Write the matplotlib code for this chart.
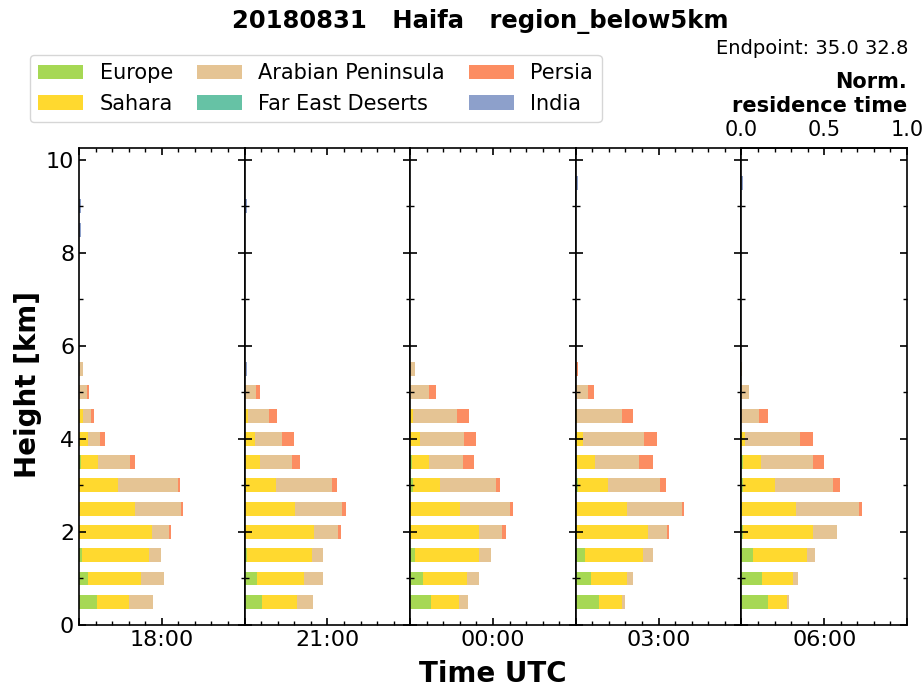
import numpy as np
import matplotlib
matplotlib.use("Agg")
import matplotlib.pyplot as plt
from matplotlib.ticker import MultipleLocator

# heights of the residence-time bins (km)
heights = [0.5, 1.0, 1.5, 2.0, 2.5, 3.0, 3.5, 4.0, 4.5, 5.0, 5.5, 8.5, 9.0, 9.5]
times = ["18:00", "21:00", "00:00", "03:00", "06:00"]

# normalised residence time per source region, one row per time step
europe = [
    [0.111, 0.053, 0.016, 0, 0, 0, 0.012, 0, 0, 0, 0, 0, 0, 0],
    [0.107, 0.075, 0.016, 0, 0, 0.008, 0, 0, 0, 0, 0, 0, 0, 0],
    [0.125, 0.077, 0.030, 0.004, 0, 0.018, 0.012, 0, 0, 0, 0, 0, 0, 0],
    [0.139, 0.093, 0.055, 0.006, 0.004, 0.016, 0.006, 0, 0, 0, 0, 0, 0, 0],
    [0.158, 0.123, 0.072, 0.008, 0.004, 0.010, 0.008, 0, 0, 0, 0, 0, 0, 0],
]
sahara = [
    [0.188, 0.323, 0.406, 0.442, 0.339, 0.236, 0.103, 0.055, 0.022, 0, 0, 0, 0, 0],
    [0.212, 0.281, 0.392, 0.422, 0.307, 0.182, 0.095, 0.063, 0.020, 0, 0, 0, 0, 0],
    [0.170, 0.267, 0.386, 0.412, 0.303, 0.164, 0.103, 0.061, 0.018, 0, 0, 0, 0, 0],
    [0.141, 0.218, 0.352, 0.428, 0.307, 0.176, 0.111, 0.042, 0.006, 0, 0, 0, 0, 0],
    [0.117, 0.191, 0.324, 0.423, 0.324, 0.195, 0.113, 0.020, 0, 0, 0, 0, 0, 0],
]
arabian = [
    [0.149, 0.137, 0.073, 0.103, 0.275, 0.360, 0.194, 0.073, 0.053, 0.050, 0.024, 0, 0, 0],
    [0.093, 0.117, 0.065, 0.139, 0.283, 0.337, 0.194, 0.162, 0.129, 0.071, 0.008, 0, 0, 0],
    [0.053, 0.071, 0.071, 0.139, 0.299, 0.337, 0.204, 0.261, 0.267, 0.113, 0.028, 0, 0, 0],
    [0.018, 0.034, 0.059, 0.117, 0.331, 0.317, 0.265, 0.370, 0.271, 0.071, 0.008, 0, 0, 0],
    [0.012, 0.030, 0.051, 0.145, 0.384, 0.349, 0.310, 0.331, 0.109, 0.047, 0.005, 0, 0, 0],
]
fareast = [
    [0] * 14,
    [0] * 14,
    [0] * 14,
    [0] * 14,
    [0] * 14,
]
persia = [
    [0, 0, 0, 0.012, 0.016, 0.016, 0.030, 0.030, 0.016, 0.008, 0, 0, 0, 0],
    [0, 0, 0, 0.020, 0.024, 0.028, 0.048, 0.071, 0.048, 0.024, 0, 0, 0, 0],
    [0, 0, 0, 0.024, 0.016, 0.026, 0.069, 0.073, 0.071, 0.040, 0, 0, 0, 0],
    [0, 0, 0, 0.010, 0.012, 0.036, 0.085, 0.081, 0.069, 0.036, 0.006, 0, 0, 0],
    [0, 0, 0, 0, 0.014, 0.043, 0.067, 0.082, 0.049, 0, 0, 0, 0, 0],
]
india = [
    [0, 0, 0, 0, 0, 0, 0, 0, 0, 0, 0, 0.012, 0.012, 0],
    [0, 0, 0, 0, 0, 0, 0, 0, 0, 0, 0.006, 0, 0.012, 0],
    [0] * 14,
    [0, 0, 0, 0, 0, 0, 0, 0, 0, 0, 0, 0, 0, 0.012],
    [0, 0, 0, 0, 0, 0, 0, 0, 0, 0, 0, 0, 0, 0.010],
]

regions = ["Europe", "Sahara", "Arabian Peninsula", "Far East Deserts", "Persia", "India"]
region_data = [europe, sahara, arabian, fareast, persia, india]
colors = ["#a6d854", "#ffd92f", "#e5c494", "#66c2a5", "#fc8d62", "#8da0cb"]

plt.rcParams["axes.linewidth"] = 1.2

fig = plt.figure(figsize=(9.24, 6.96), dpi=100)
axes = fig.subplots(1, 5, sharey=True)
fig.subplots_adjust(left=0.0855, right=0.9816, bottom=0.102, top=0.787, wspace=0)

handles = []
for i, ax in enumerate(axes):
    left = np.zeros(len(heights))
    for name, data, col in zip(regions, region_data, colors):
        vals = np.array(data[i], dtype=float)
        b = ax.barh(heights, vals, height=0.3, left=left, color=col,
                    linewidth=0, label=name)
        left += vals
        if i == 0:
            handles.append(b)
    ax.set_xlim(0, 1)
    ax.set_ylim(0, 10.25)
    ax.xaxis.set_major_locator(MultipleLocator(0.5))
    ax.xaxis.set_minor_locator(MultipleLocator(0.1))
    ax.yaxis.set_major_locator(MultipleLocator(2))
    ax.yaxis.set_minor_locator(MultipleLocator(1))
    ax.tick_params(which="both", direction="in", top=True, right=True,
                   labeltop=False, labelsize=16)
    ax.tick_params(which="major", length=5, width=1.2)
    ax.tick_params(which="minor", length=3, width=1.0)
    ax.set_xticks([0, 0.5, 1])
    ax.set_xticklabels(["", times[i], ""])
    if i > 0:
        ax.tick_params(labelleft=False)

# top scale on the last panel
last = axes[-1]
sec = last.secondary_xaxis("top")
sec.set_xticks([0, 0.5, 1])
sec.set_xticklabels(["0.0", "0.5", "1.0"])
sec.tick_params(direction="in", length=0, labelsize=15, pad=6)
sec.set_xlabel("Norm.\nresidence time", fontweight="bold", fontsize=15,
               loc="right", labelpad=6)

fig.text(493 / 924, 0.012, "Time UTC", ha="center", va="bottom",
         fontsize=20, fontweight="bold")
fig.text(0.015, 1 - 384 / 696, "Height [km]", ha="left", va="center",
         rotation=90, fontsize=20, fontweight="bold")
fig.text(480 / 924, 1 - 22 / 696, "20180831   Haifa   region_below5km",
         ha="center", va="center", fontsize=17.5, fontweight="bold")
fig.text(908 / 924, 1 - 48 / 696, "Endpoint: 35.0 32.8", ha="right", va="center",
         fontsize=14)

fig.legend(handles, regions, loc="upper left", ncol=3,
           bbox_to_anchor=(30 / 924, 1 - 55 / 696), borderaxespad=0,
           fontsize=15, handlelength=2.15, columnspacing=1.15)

fig.savefig("out.png", dpi=100)
